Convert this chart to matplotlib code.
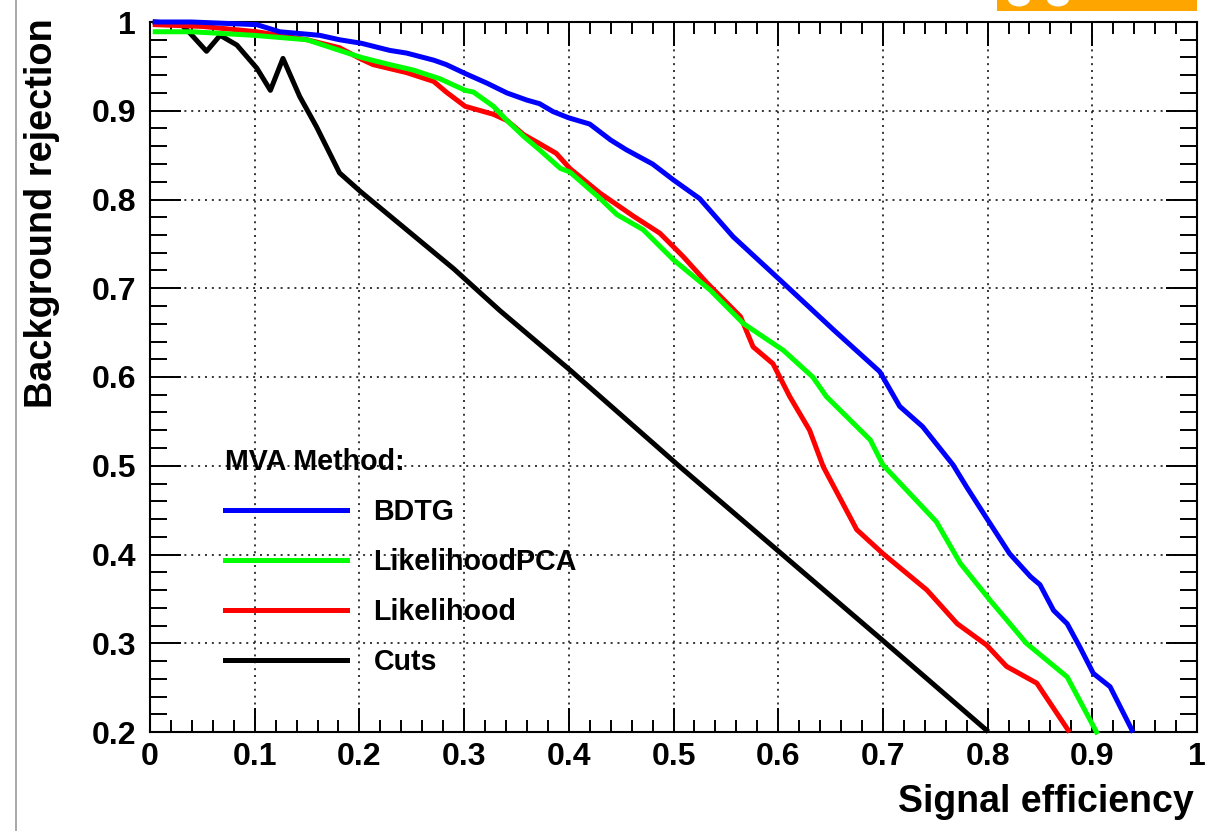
import matplotlib
matplotlib.use("Agg")
import matplotlib.pyplot as plt
from matplotlib.ticker import MultipleLocator, FuncFormatter
from matplotlib.patches import Rectangle, Circle
from matplotlib.lines import Line2D

plt.rcParams['font.family'] = ['Liberation Sans', 'DejaVu Sans']
plt.rcParams['font.weight'] = 'bold'

# ---- data ----
bdtg_x = [0.005, 0.04, 0.102, 0.124, 0.162, 0.181, 0.202, 0.229, 0.245, 0.271, 0.283, 0.301,
          0.322, 0.341, 0.360, 0.372, 0.385, 0.40, 0.42, 0.44, 0.455, 0.48, 0.5, 0.525, 0.557,
          0.602, 0.653, 0.697, 0.716, 0.738, 0.767, 0.780, 0.799, 0.821, 0.841, 0.850, 0.863,
          0.876, 0.888, 0.901, 0.917, 0.938]
bdtg_y = [1.0, 1.0, 0.997, 0.989, 0.985, 0.98, 0.976, 0.968, 0.965, 0.957, 0.952, 0.942,
          0.931, 0.92, 0.912, 0.908, 0.899, 0.892, 0.885, 0.867, 0.856, 0.84, 0.822, 0.801, 0.758,
          0.709, 0.653, 0.606, 0.567, 0.544, 0.501, 0.476, 0.441, 0.401, 0.375, 0.366, 0.337,
          0.322, 0.296, 0.266, 0.251, 0.202]

lpca_x = [0.005, 0.04, 0.099, 0.150, 0.181, 0.202, 0.229, 0.251, 0.277, 0.301, 0.309, 0.328,
          0.341, 0.357, 0.372, 0.392, 0.401, 0.43, 0.446, 0.471, 0.5, 0.535, 0.567, 0.605,
          0.633, 0.646, 0.688, 0.700, 0.751, 0.774, 0.802, 0.837, 0.876, 0.904]
lpca_y = [0.989, 0.989, 0.985, 0.98, 0.968, 0.96, 0.952, 0.946, 0.936, 0.923, 0.921, 0.905,
          0.889, 0.871, 0.856, 0.835, 0.831, 0.801, 0.783, 0.766, 0.732, 0.698, 0.660, 0.630,
          0.600, 0.578, 0.529, 0.501, 0.437, 0.390, 0.349, 0.300, 0.262, 0.200]

lik_x = [0.005, 0.05, 0.102, 0.15, 0.181, 0.202, 0.213, 0.245, 0.271, 0.283, 0.301, 0.328,
         0.341, 0.357, 0.372, 0.388, 0.401, 0.43, 0.462, 0.487, 0.509, 0.532, 0.564, 0.576,
         0.595, 0.611, 0.63, 0.643, 0.675, 0.700, 0.742, 0.771, 0.799, 0.818, 0.847, 0.877]
lik_y = [0.997, 0.995, 0.989, 0.98, 0.971, 0.958, 0.952, 0.943, 0.933, 0.921, 0.905, 0.896,
         0.889, 0.873, 0.863, 0.852, 0.835, 0.807, 0.781, 0.762, 0.736, 0.706, 0.668, 0.634,
         0.615, 0.578, 0.540, 0.499, 0.428, 0.401, 0.360, 0.322, 0.298, 0.274, 0.255, 0.202]

cuts_x = [0.005, 0.03, 0.037, 0.054, 0.067, 0.083, 0.102, 0.115, 0.127, 0.143, 0.159, 0.181,
          0.201, 0.245, 0.290, 0.334, 0.401, 0.506, 0.602, 0.700, 0.799]
cuts_y = [1.0, 0.997, 0.989, 0.967, 0.985, 0.974, 0.948, 0.923, 0.959, 0.916, 0.882, 0.830,
          0.809, 0.766, 0.722, 0.675, 0.608, 0.499, 0.402, 0.303, 0.202]

method_names = ["BDTG", "LikelihoodPCA", "Likelihood", "Cuts"]
method_colors = ["#0000ff", "#00ff00", "#ff0000", "#000000"]

x_label = "Signal efficiency"
y_label = "Background rejection"
legend_title = "MVA Method:"

# ---- figure ----
W, H = 1220, 831
fig = plt.figure(figsize=(W / 100, H / 100), dpi=100)
L, R, T, B = 150, 1197, 22, 732
ax = fig.add_axes([L / W, 1 - B / H, (R - L) / W, (B - T) / H])

ax.set_xlim(0, 1)
ax.set_ylim(0.2, 1)

series = [(bdtg_x, bdtg_y), (lpca_x, lpca_y), (lik_x, lik_y), (cuts_x, cuts_y)]
handles = [None] * 4
for i in [3, 2, 1, 0]:
    xs, ys = series[i]
    ln, = ax.plot(xs, ys, color=method_colors[i], lw=3.6, clip_on=False,
                  solid_joinstyle='round', zorder=3 + (3 - i))
    handles[i] = ln

# grid
ax.grid(True, which='major', color='black', lw=1.1, linestyle=(0, (1.3, 3.2)), zorder=1)

# ticks
ax.xaxis.set_major_locator(MultipleLocator(0.1))
ax.xaxis.set_minor_locator(MultipleLocator(0.02))
ax.yaxis.set_major_locator(MultipleLocator(0.1))
ax.yaxis.set_minor_locator(MultipleLocator(0.02))
fmt = FuncFormatter(lambda v, p: ("%.1f" % v).rstrip('0').rstrip('.') if abs(v) > 1e-9 else "0")
ax.xaxis.set_major_formatter(fmt)
ax.yaxis.set_major_formatter(fmt)
ax.tick_params(axis='both', which='both', direction='in', top=True, right=True, width=1.4,
               color='black')
ax.tick_params(axis='x', which='major', length=17, pad=7, labelsize=23)
ax.tick_params(axis='x', which='minor', length=8.5)
ax.tick_params(axis='y', which='major', length=22.5, pad=10, labelsize=23)
ax.tick_params(axis='y', which='minor', length=12)
for lab in ax.get_xticklabels() + ax.get_yticklabels():
    lab.set_fontweight('bold')
for s in ax.spines.values():
    s.set_linewidth(1.5)

# axis labels
ax.set_xlabel(x_label, fontsize=27, fontweight='bold', loc='right')
ax.xaxis.label.set_va('baseline')
ax.xaxis.set_label_coords((1194 - L) / (R - L), (B - 812) / (B - T))
ax.set_ylabel(y_label, fontsize=27.3, fontweight='bold', loc='top')
ax.yaxis.label.set_va('baseline')
ax.yaxis.set_label_coords((52 - L) / (R - L), (B - 18) / (B - T))

# legend
leg = ax.legend(handles, method_names, title=legend_title, loc='upper left',
                bbox_to_anchor=((225 - L) / (R - L), (B - 448) / (B - T)),
                frameon=False, fontsize=20.6, handlelength=4.27, handletextpad=0.92,
                labelspacing=0.77, borderpad=0, borderaxespad=0, alignment='left',
                title_fontproperties={'weight': 'bold', 'size': 20.6})
for t in leg.get_texts():
    t.set_fontweight('bold')

# decorations from the screenshot: gray margin line and orange logo strip
fig.add_artist(Line2D([16 / W, 16 / W], [0, 1], color='#a8a8a8', lw=1.4))
fig.add_artist(Rectangle((997 / W, 1 - 11 / H), 200 / W, 11 / H, color='#ffa500', lw=0))
for cx in (1019, 1058):
    fig.add_artist(Circle((cx / W, 1 + 1 / H), 11 / W, color='white', lw=0,
                          transform=fig.transFigure))

fig.savefig("out.png", dpi=100)
